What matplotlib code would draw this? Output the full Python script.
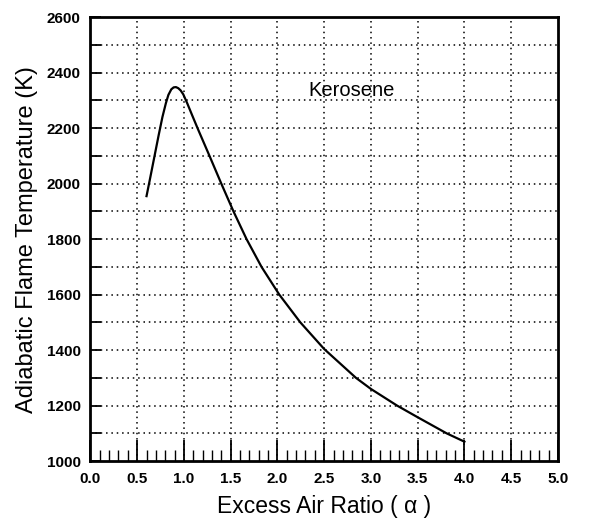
import numpy as np
import matplotlib.pyplot as plt
from matplotlib.ticker import MultipleLocator, FuncFormatter

# Kerosene adiabatic flame temperature vs excess air ratio
alpha = [0.60, 0.63, 0.68, 0.73, 0.77, 0.807, 0.834, 0.865, 0.89, 0.915, 0.94,
         0.965, 0.993, 1.035, 1.09, 1.152, 1.28, 1.40, 1.53, 1.67, 1.83,
         2.02, 2.245, 2.50, 2.84, 3.00, 3.28, 3.50, 3.81, 4.00]
temp = [1955, 2005, 2090, 2175, 2240, 2290, 2320, 2340, 2347, 2348, 2344,
        2336, 2322, 2290, 2245, 2195, 2095, 2000, 1900, 1800, 1700,
        1600, 1500, 1404, 1300, 1260, 1200, 1158, 1100, 1070]

plt.rcParams['font.family'] = ['Liberation Sans', 'DejaVu Sans']

fig = plt.figure(figsize=(5.91, 5.21), dpi=100)
ax = fig.add_axes([0.153, 0.115, 0.791, 0.852])

# Dotted grid
for xv in np.arange(0.5, 5.0, 0.5):
    ax.axvline(xv, color='black', lw=1.1, ls=(0, (1, 2.5)), zorder=1)
for yv in np.arange(1100, 2600, 100):
    ax.axhline(yv, color='black', lw=1.1, ls=(0, (1, 2.5)), zorder=1)

ax.plot(alpha, temp, color='black', lw=1.6, zorder=3)

ax.text(2.33, 2335, 'Kerosene', fontsize=14.5, ha='left', va='center')

ax.set_xlim(0, 5)
ax.set_ylim(1000, 2600)

ax.xaxis.set_major_locator(MultipleLocator(0.5))
ax.xaxis.set_minor_locator(MultipleLocator(0.1))
ax.yaxis.set_major_locator(MultipleLocator(100))
ax.yaxis.set_major_formatter(FuncFormatter(lambda v, p: '%d' % v if int(round(v)) % 200 == 0 else ''))

ax.tick_params(axis='x', which='major', direction='in', length=15, width=1.3, pad=8, labelsize=11)
ax.tick_params(axis='x', which='minor', direction='in', length=8, width=1.0)
ax.tick_params(axis='y', which='major', direction='in', length=8, width=1.3, pad=7, labelsize=11)

for s in ax.spines.values():
    s.set_linewidth(2)

ax.set_xlabel('Excess Air Ratio ( α )', fontsize=16.5, labelpad=6)
ax.set_ylabel('Adiabatic Flame Temperature (K)', fontsize=17, labelpad=6)

fig.canvas.draw()
for lab in ax.get_xticklabels() + ax.get_yticklabels():
    lab.set_fontweight('bold')

fig.savefig('out.png', dpi=100)
